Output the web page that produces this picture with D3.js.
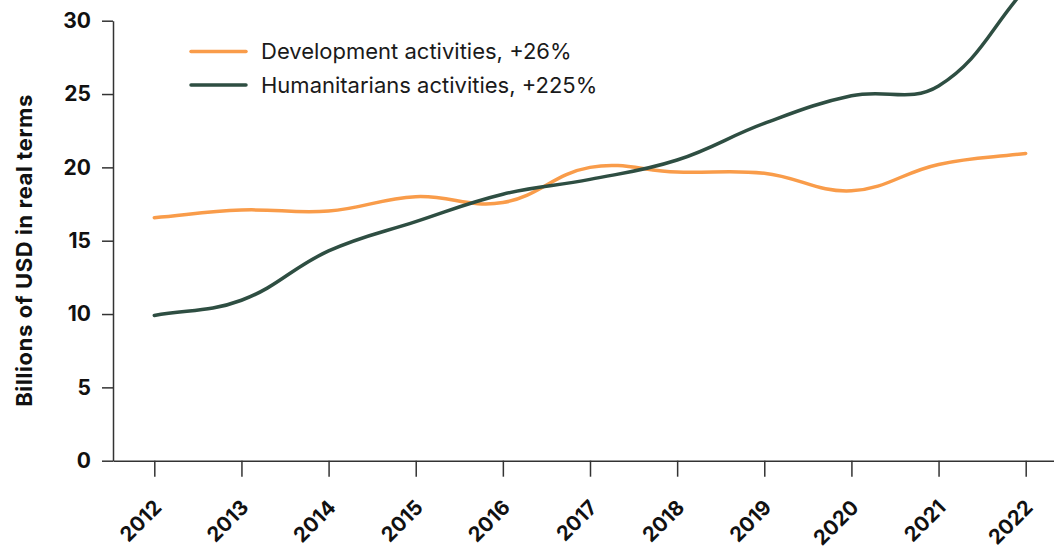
<!DOCTYPE html>
<html>
<head>
<meta charset="utf-8">
<script src="https://cdn.jsdelivr.net/npm/d3@7"></script>
<style>
  html, body { margin: 0; padding: 0; background: #fff; }
  svg { display: block; overflow: hidden; }
  text { font-family: Inter, "Noto Sans", sans-serif; }
</style>
</head>
<body>
<svg id="chart" width="1054" height="549"></svg>
<script>
// ---- data ----
const years = ["2012","2013","2014","2015","2016","2017","2018","2019","2020","2021","2022"];
const development = [16.57, 17.09, 17.02, 18.0, 17.6, 20.0, 19.68, 19.6, 18.4, 20.2, 20.95];
const humanitarian = [9.9, 10.94, 14.3, 16.3, 18.17, 19.18, 20.5, 23.0, 24.88, 25.55, 32.2];
const yTicks = [0, 5, 10, 15, 20, 25, 30];
const seriesNames = ["Development activities, +26%", "Humanitarians activities, +225%"];
const seriesColors = ["#f99c4a", "#2e4e42"];
const yTitle = "Billions of USD in real terms";

// ---- layout ----
const svg = d3.select("#chart");
const mLeft = 113, mTop = 20.7, mBottom = 460.7;

const x = d3.scalePoint().domain(years).range([mLeft, 1067]).padding(0.474);
const y = d3.scaleLinear().domain([0, 30]).range([mBottom, mTop]);

// tension spline curve (control points scaled by neighbouring segment lengths)
function tensionCurve(tension) {
  return function(context) {
    let pts = [];
    return {
      areaStart() {}, areaEnd() {},
      lineStart() { pts = []; },
      point(px, py) { pts.push([+px, +py]); },
      lineEnd() {
        const n = pts.length;
        if (!n) return;
        const cps = pts.map((p, i) => {
          const prev = pts[i - 1] || p, next = pts[i + 1] || p;
          const d01 = Math.hypot(p[0] - prev[0], p[1] - prev[1]);
          const d12 = Math.hypot(next[0] - p[0], next[1] - p[1]);
          let s01 = d01 / (d01 + d12), s12 = d12 / (d01 + d12);
          if (isNaN(s01)) s01 = 0;
          if (isNaN(s12)) s12 = 0;
          const fa = tension * s01, fb = tension * s12;
          return {
            prev: [p[0] - fa * (next[0] - prev[0]), p[1] - fa * (next[1] - prev[1])],
            next: [p[0] + fb * (next[0] - prev[0]), p[1] + fb * (next[1] - prev[1])]
          };
        });
        context.moveTo(pts[0][0], pts[0][1]);
        for (let i = 1; i < n; i++) {
          context.bezierCurveTo(cps[i - 1].next[0], cps[i - 1].next[1],
                                cps[i].prev[0], cps[i].prev[1], pts[i][0], pts[i][1]);
        }
      }
    };
  };
}

// y axis
const gy = svg.append("g").attr("transform", `translate(${mLeft},0)`)
  .call(d3.axisLeft(y).tickValues(yTicks).tickSize(11).tickSizeOuter(0).tickPadding(11));
gy.select(".domain").attr("stroke", "#333").attr("stroke-width", 1.5);
gy.selectAll(".tick line").attr("stroke", "#333").attr("stroke-width", 1.5);
gy.selectAll(".tick text").attr("fill", "#111").style("font-size", "21px").style("font-weight", 700)
  .style("font-family", "Inter, sans-serif");

// x axis
const gx = svg.append("g").attr("transform", `translate(0,${mBottom})`)
  .call(d3.axisBottom(x).tickSize(16).tickSizeOuter(0).tickPadding(0));
gx.select(".domain").attr("stroke", "#333").attr("stroke-width", 1.5);
gx.selectAll(".tick line").attr("stroke", "#333").attr("stroke-width", 1.5);
gx.selectAll(".tick text")
  .attr("fill", "#111")
  .style("font-size", "20.5px").style("font-weight", 700).style("font-family", "Inter, sans-serif")
  .attr("text-anchor", "end")
  .attr("y", 0).attr("dy", 0)
  .attr("transform", "translate(8,48) rotate(-45)");

// y title
svg.append("text")
  .attr("transform", `translate(31.5,250.5) rotate(-90)`)
  .attr("text-anchor", "middle")
  .attr("fill", "#111")
  .style("font-size", "22px").style("font-weight", 700).style("letter-spacing", "0.6px")
  .text(yTitle);

// lines
const line = d3.line().x((d, i) => x(years[i])).y(d => y(d)).curve(tensionCurve(0.4));
[development, humanitarian].forEach((s, k) => {
  svg.append("path").datum(s)
    .attr("fill", "none")
    .attr("stroke", seriesColors[k])
    .attr("stroke-width", 3.5)
    .attr("stroke-linejoin", "round")
    .attr("stroke-linecap", "round")
    .attr("d", line);
});

// legend
const legend = svg.append("g");
seriesNames.forEach((name, k) => {
  const ly = 51.5 + k * 33.5;
  legend.append("line").attr("x1", 191).attr("x2", 246).attr("y1", ly).attr("y2", ly)
    .attr("stroke", seriesColors[k]).attr("stroke-width", 3.5).attr("stroke-linecap", "round");
  legend.append("text").attr("x", 261).attr("y", ly + 7.5)
    .attr("fill", "#1a1a1a").style("font-size", "22px").text(name);
});
</script>
</body>
</html>
